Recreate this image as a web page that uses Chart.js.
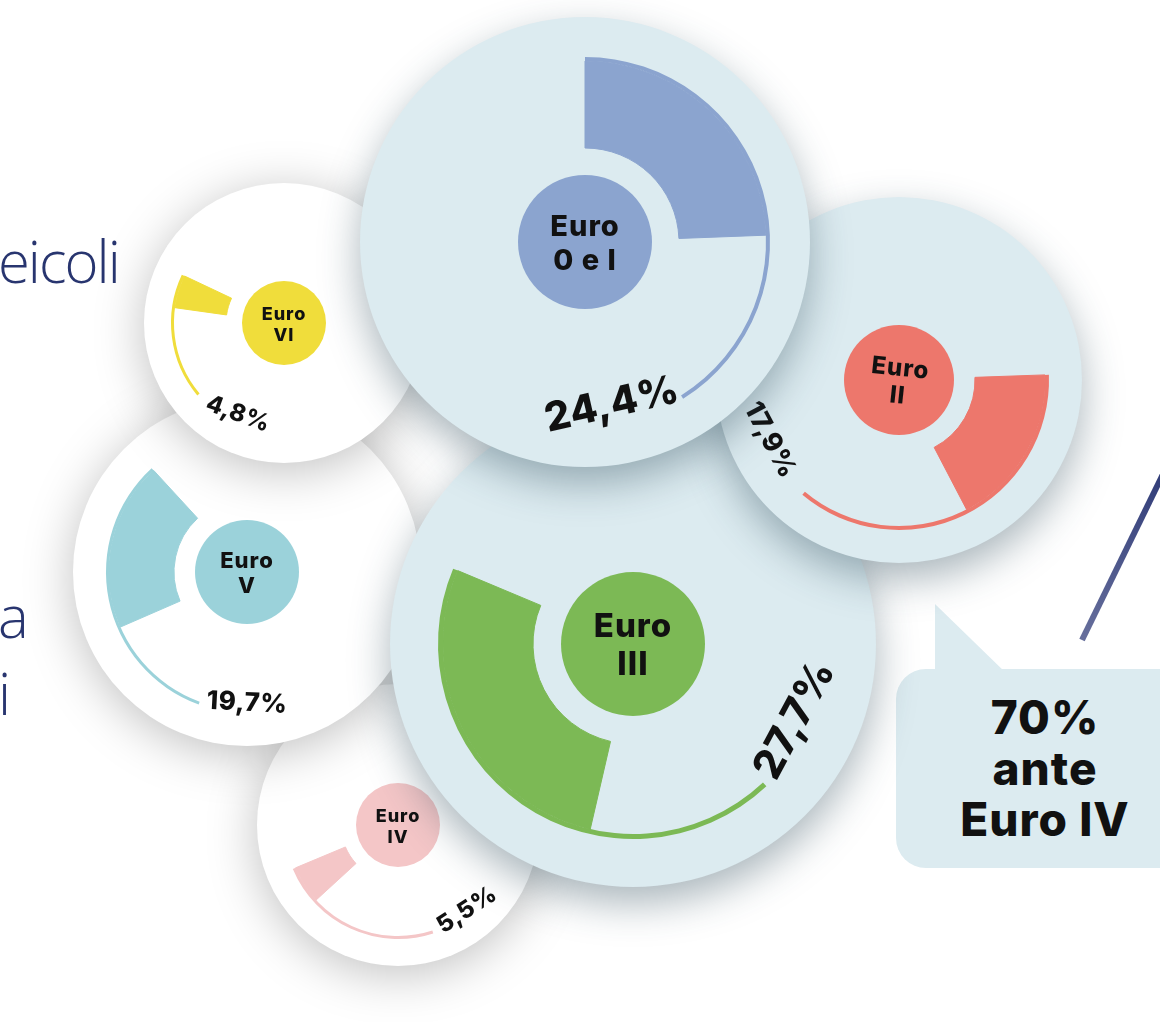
<!DOCTYPE html>
<html>
<head>
<meta charset="utf-8">
<script src="https://cdn.jsdelivr.net/npm/chart.js@4.4.1/dist/chart.umd.min.js"></script>
<style>
    body { margin: 0; background: #fff; }
    #stage { position: relative; width: 1160px; height: 1022px; overflow: hidden; background: #fff; }
    #stage canvas { position: absolute; }
    .side { position: absolute; left: -2px; font-family: 'Open Sans', sans-serif; font-weight: 300;
            font-size: 58px; color: #28356f; letter-spacing: -2px; line-height: 1; }
    #bubble { position: absolute; left: 896px; top: 669px; width: 300px; height: 199px;
              background: #dcebf0; border-radius: 30px; }
    #bubbleTip { position: absolute; left: 935px; top: 604px; width: 72px; height: 70px;
                 background: #dcebf0; clip-path: polygon(0 0, 0 100%, 100% 100%); }
    #bubbleText { position: absolute; left: 945px; top: 692px; width: 200px; text-align: center;
                  font-family: Inter, sans-serif; font-weight: 800; font-size: 46px; line-height: 51px;
                  color: #111; letter-spacing: 1px; }
</style>
</head>
<body>
<div id="stage">
    <div class="side" style="top:232px">eicoli</div>
    <div class="side" style="top:587px">a</div>
    <div class="side" style="top:664px">i</div>
    <svg width="1160" height="1022" style="position:absolute;left:0;top:0">
        <defs>
            <linearGradient id="stroke" x1="0" y1="0" x2="0" y2="1">
                <stop offset="0" stop-color="#2f3b77"/>
                <stop offset="1" stop-color="#676f9c"/>
            </linearGradient>
        </defs>
        <line x1="1166" y1="468" x2="1082" y2="640" stroke="url(#stroke)" stroke-width="6"/>
    </svg>
    <div id="bubbleTip"></div>
    <div id="bubble"></div>
    <div id="bubbleText">70%<br>ante<br>Euro IV</div>
</div>

<script>
// ---- dati ----
const categories = ['Euro 0 e I', 'Euro II', 'Euro III', 'Euro IV', 'Euro V', 'Euro VI'];
const hubLines = [['Euro', '0 e I'], ['Euro', 'II'], ['Euro', 'III'], ['Euro', 'IV'], ['Euro', 'V'], ['Euro', 'VI']];
const shares = [24.4, 17.9, 27.7, 5.5, 19.7, 4.8];
// coda sottile decorativa (stessa unità delle quote)
const tailLengths = [16.7, 18.8, 15.6, 18.2, 12.9, 13.3];
const tailAfter = [true, true, false, false, false, false];
const colors = ['#8ba4cf', '#ed776c', '#7cb955', '#f4c6c7', '#9bd2da', '#f0dd3b'];

// ---- layout ----
const ringX = [585, 899, 633, 398, 247, 284];
const ringY = [242, 380, 644, 825, 572, 323];
const discR = [225, 183, 243, 141, 174, 140];
const outerR = [185, 150, 195, 114, 141, 113];
const innerR = [94, 76, 100, 57, 73, 58];
const hubR = [67, 55, 72, 42, 52, 42];
const trackW = [4, 4, 5, 3, 3, 3];
const startDeg = [0, 88, 193, 227.5, 246.5, 278];
const discFill = ['#dcebf0', '#dcebf0', '#dcebf0', '#ffffff', '#ffffff', '#ffffff'];
const zOrder = [6, 5, 4, 1, 2, 3];
const pctDX = [27, -129, 162, 69, 0, -46];
const pctDY = [163, 60, 76, 85, 131, 91];
const pctRot = [-13, 62, -62, -33, 3, 20];
const pctFont = [40, 27, 41, 24, 26, 24];
const hubFont = [29, 24, 33, 18, 22, 18];
const hubRot = [0, 6, 0, 0, 0, 0];

const PAD = 80;

const discPlugin = {
    id: 'disc',
    beforeDatasetsDraw(chart, args, o) {
        const ctx = chart.ctx;
        const arc = chart.getDatasetMeta(0).data[0];
        ctx.save();
        ctx.shadowColor = o.shadow;
        ctx.shadowBlur = o.blur;
        ctx.shadowOffsetY = o.offsetY;
        ctx.fillStyle = o.fill;
        ctx.beginPath();
        ctx.arc(arc.x, arc.y, o.radius, 0, Math.PI * 2);
        ctx.fill();
        ctx.restore();
    },
    afterDatasetsDraw(chart, args, o) {
        const ctx = chart.ctx;
        const arc = chart.getDatasetMeta(0).data[0];
        const x = arc.x, y = arc.y;
        // cerchio centrale
        ctx.save();
        ctx.fillStyle = o.hubColor;
        ctx.beginPath();
        ctx.arc(x, y, o.hubRadius, 0, Math.PI * 2);
        ctx.fill();
        ctx.fillStyle = '#111';
        ctx.textAlign = 'center';
        ctx.textBaseline = 'middle';
        ctx.translate(x, y + 2);
        ctx.rotate(o.hubRot * Math.PI / 180);
        ctx.font = `800 ${o.hubFont}px Inter, sans-serif`;
        ctx.letterSpacing = '1px';
        ctx.fillText(o.hubLines[0], 0, -0.56 * o.hubFont);
        ctx.fillText(o.hubLines[1], 0, 0.58 * o.hubFont);
        ctx.restore();
        // percentuale
        ctx.save();
        ctx.fillStyle = '#111';
        ctx.textAlign = 'center';
        ctx.textBaseline = 'middle';
        ctx.translate(x + o.dx, y + o.dy);
        ctx.rotate(o.rot * Math.PI / 180);
        ctx.font = `800 ${o.pctFont}px Inter, sans-serif`;
        ctx.letterSpacing = '0.5px';
        ctx.fillText(o.text, 0, 0);
        ctx.restore();
    }
};

const stage = document.getElementById('stage');

categories.forEach((name, i) => {
    const size = 2 * (discR[i] + PAD);
    const canvas = document.createElement('canvas');
    canvas.width = size;
    canvas.height = size;
    canvas.style.left = (ringX[i] - size / 2) + 'px';
    canvas.style.top = (ringY[i] - size / 2) + 'px';
    canvas.style.zIndex = zOrder[i];
    stage.insertBefore(canvas, document.getElementById('bubbleTip'));

    const share = shares[i];
    const tail = tailLengths[i];
    const trackRotation = tailAfter[i] ? startDeg[i] : startDeg[i] - tail * 3.6;
    const white = discFill[i] === '#ffffff';

    new Chart(canvas, {
        type: 'doughnut',
        data: {
            labels: [name, ''],
            datasets: [
                {
                    // anello sottile esterno (spicchio + coda)
                    data: [share + tail, 100 - share - tail],
                    backgroundColor: [colors[i], 'rgba(0,0,0,0)'],
                    borderWidth: 0,
                    rotation: trackRotation,
                    weight: trackW[i]
                },
                {
                    // spicchio spesso
                    data: [share, 100 - share],
                    backgroundColor: [colors[i], 'rgba(0,0,0,0)'],
                    borderColor: [colors[i], 'rgba(0,0,0,0)'],
                    borderWidth: 1,
                    rotation: startDeg[i],
                    weight: outerR[i] - innerR[i] - trackW[i]
                }
            ]
        },
        options: {
            responsive: false,
            animation: false,
            events: [],
            radius: outerR[i],
            cutout: (innerR[i] / outerR[i] * 100) + '%',
            plugins: {
                legend: { display: false },
                tooltip: { enabled: false },
                disc: {
                    radius: discR[i],
                    fill: discFill[i],
                    shadow: white ? 'rgba(0,0,0,0.25)' : 'rgba(40,70,85,0.4)',
                    blur: white ? 50 : 40,
                    offsetY: white ? 8 : 16,
                    hubColor: colors[i],
                    hubRadius: hubR[i],
                    hubLines: hubLines[i],
                    hubFont: hubFont[i],
                    hubRot: hubRot[i],
                    text: String(share).replace('.', ',') + '%',
                    dx: pctDX[i],
                    dy: pctDY[i],
                    rot: pctRot[i],
                    pctFont: pctFont[i]
                }
            }
        },
        plugins: [discPlugin]
    });
});
</script>
</body>
</html>
